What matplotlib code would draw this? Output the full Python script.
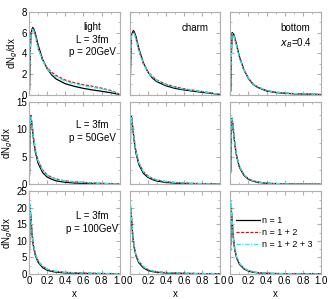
import matplotlib.pyplot as plt
from matplotlib.ticker import MultipleLocator

plt.rcParams['font.family'] = ['Liberation Sans', 'DejaVu Sans']
plt.rcParams['font.size'] = 7

# shared x grid
x = [0.005, 0.01, 0.02, 0.03, 0.04, 0.05, 0.07, 0.1, 0.15, 0.2, 0.25,
     0.3, 0.4, 0.5, 0.6, 0.7, 0.8, 0.9, 0.99]

# row 1: L = 3fm, p = 20GeV
light20_n1 = [0.5, 3.0, 5.8, 6.2, 6.5, 6.4, 5.9, 4.8, 3.4, 2.5, 1.9, 1.5, 1.05, 0.8, 0.6, 0.45, 0.32, 0.18, 0.03]
light20_n12 = [0.4, 3.2, 6.0, 6.1, 6.4, 6.3, 5.7, 4.5, 3.3, 2.6, 2.15, 1.85, 1.4, 1.15, 0.95, 0.8, 0.62, 0.4, 0.08]
light20_n123 = [0.4, 3.1, 5.9, 6.0, 6.3, 6.2, 5.7, 4.5, 3.3, 2.5, 2.0, 1.7, 1.3, 1.05, 0.85, 0.7, 0.55, 0.35, 0.06]
charm20_n1 = [0.4, 2.8, 5.8, 6.0, 6.2, 6.1, 5.6, 4.5, 3.1, 2.2, 1.6, 1.25, 0.85, 0.6, 0.45, 0.33, 0.22, 0.12, 0.02]
charm20_n12 = [0.3, 3.0, 5.9, 5.9, 6.1, 6.0, 5.4, 4.3, 3.0, 2.25, 1.75, 1.4, 1.0, 0.75, 0.56, 0.42, 0.3, 0.17, 0.03]
charm20_n123 = [0.3, 2.9, 5.8, 5.9, 6.0, 5.9, 5.4, 4.3, 3.0, 2.2, 1.7, 1.35, 0.95, 0.7, 0.52, 0.4, 0.28, 0.15, 0.03]
bottom20_n1 = [0.4, 3.5, 6.0, 5.9, 5.8, 5.5, 4.8, 3.7, 2.4, 1.55, 1.0, 0.7, 0.35, 0.2, 0.12, 0.08, 0.05, 0.03, 0.01]
bottom20_n12 = [0.3, 3.6, 5.9, 5.8, 5.7, 5.4, 4.7, 3.6, 2.4, 1.6, 1.05, 0.75, 0.4, 0.24, 0.15, 0.1, 0.07, 0.04, 0.01]
bottom20_n123 = [0.3, 3.5, 5.9, 5.8, 5.7, 5.4, 4.7, 3.6, 2.4, 1.6, 1.05, 0.75, 0.4, 0.24, 0.15, 0.1, 0.07, 0.04, 0.01]

# row 2: L = 3fm, p = 50GeV
light50_n1 = [2.0, 11.0, 12.4, 11.0, 9.5, 8.0, 5.8, 3.8, 2.1, 1.3, 0.9, 0.6, 0.35, 0.22, 0.15, 0.1, 0.07, 0.04, 0.01]
light50_n12 = [1.5, 10.5, 12.5, 11.2, 9.8, 8.4, 6.3, 4.3, 2.6, 1.7, 1.25, 0.95, 0.6, 0.45, 0.33, 0.25, 0.18, 0.1, 0.02]
light50_n123 = [1.5, 10.6, 12.4, 11.1, 9.7, 8.3, 6.2, 4.2, 2.5, 1.65, 1.2, 0.9, 0.58, 0.42, 0.3, 0.23, 0.16, 0.09, 0.02]
charm50_n1 = [2.0, 11.2, 12.3, 10.8, 9.3, 7.8, 5.6, 3.6, 2.0, 1.25, 0.85, 0.58, 0.33, 0.2, 0.13, 0.09, 0.06, 0.03, 0.01]
charm50_n12 = [1.5, 10.6, 12.3, 11.0, 9.6, 8.2, 6.0, 4.0, 2.3, 1.5, 1.05, 0.78, 0.48, 0.33, 0.24, 0.17, 0.12, 0.07, 0.01]
charm50_n123 = [1.5, 10.6, 12.2, 10.9, 9.5, 8.1, 5.9, 3.9, 2.3, 1.45, 1.0, 0.75, 0.46, 0.31, 0.22, 0.16, 0.11, 0.06, 0.01]
bottom50_n1 = [2.5, 11.5, 12.0, 10.3, 8.7, 7.2, 5.0, 3.1, 1.6, 0.9, 0.55, 0.35, 0.17, 0.09, 0.05, 0.03, 0.02, 0.01, 0.0]
bottom50_n12 = [2.0, 11.0, 12.0, 10.5, 8.9, 7.4, 5.2, 3.3, 1.75, 1.0, 0.65, 0.42, 0.22, 0.12, 0.07, 0.04, 0.03, 0.02, 0.0]
bottom50_n123 = [2.0, 11.0, 11.9, 10.4, 8.9, 7.4, 5.2, 3.3, 1.75, 1.0, 0.65, 0.42, 0.22, 0.12, 0.07, 0.04, 0.03, 0.02, 0.0]

# row 3: L = 3fm, p = 100GeV
light100_n1 = [8.0, 21.0, 17.0, 13.0, 10.0, 8.0, 5.5, 3.5, 1.9, 1.1, 0.75, 0.5, 0.3, 0.2, 0.14, 0.1, 0.07, 0.04, 0.01]
light100_n12 = [6.0, 20.5, 17.5, 13.6, 10.6, 8.6, 6.0, 4.0, 2.3, 1.45, 1.0, 0.75, 0.48, 0.35, 0.26, 0.2, 0.14, 0.08, 0.02]
light100_n123 = [6.0, 21.5, 17.4, 13.5, 10.5, 8.5, 5.9, 3.9, 2.25, 1.4, 0.98, 0.72, 0.46, 0.33, 0.25, 0.19, 0.13, 0.07, 0.02]
charm100_n1 = [8.0, 20.0, 16.8, 12.8, 9.9, 7.9, 5.4, 3.4, 1.85, 1.05, 0.7, 0.48, 0.28, 0.18, 0.12, 0.08, 0.06, 0.03, 0.01]
charm100_n12 = [6.5, 19.5, 17.2, 13.3, 10.4, 8.4, 5.8, 3.8, 2.2, 1.35, 0.92, 0.68, 0.42, 0.3, 0.22, 0.16, 0.11, 0.06, 0.01]
charm100_n123 = [6.5, 21.0, 17.1, 13.2, 10.3, 8.3, 5.8, 3.8, 2.15, 1.3, 0.9, 0.66, 0.4, 0.28, 0.2, 0.15, 0.1, 0.06, 0.01]
bottom100_n1 = [9.0, 19.5, 16.0, 12.0, 9.2, 7.2, 4.8, 2.9, 1.5, 0.85, 0.5, 0.32, 0.16, 0.09, 0.05, 0.03, 0.02, 0.01, 0.0]
bottom100_n12 = [7.0, 20.5, 16.4, 12.4, 9.6, 7.6, 5.1, 3.2, 1.7, 1.0, 0.62, 0.42, 0.22, 0.13, 0.08, 0.05, 0.03, 0.02, 0.0]
bottom100_n123 = [7.0, 22.0, 16.4, 12.4, 9.6, 7.6, 5.1, 3.2, 1.7, 1.0, 0.62, 0.42, 0.22, 0.13, 0.08, 0.05, 0.03, 0.02, 0.0]

panels = [
    [(light20_n1, light20_n12, light20_n123), (charm20_n1, charm20_n12, charm20_n123), (bottom20_n1, bottom20_n12, bottom20_n123)],
    [(light50_n1, light50_n12, light50_n123), (charm50_n1, charm50_n12, charm50_n123), (bottom50_n1, bottom50_n12, bottom50_n123)],
    [(light100_n1, light100_n12, light100_n123), (charm100_n1, charm100_n12, charm100_n123), (bottom100_n1, bottom100_n12, bottom100_n123)],
]
row_ylim = [8, 15, 25]
row_ystep = [2, 5, 5]
row_label = ['light\nL = 3fm\np = 20GeV', 'L = 3fm\np = 50GeV', 'L = 3fm\np = 100GeV']
row_label_y = [0.88, 0.78, 0.76]
series_labels = ['n = 1', 'n = 1 + 2', 'n = 1 + 2 + 3']
series_styles = [dict(color='black', ls='-'),
                 dict(color='red', ls=(0, (2.5, 1.2))),
                 dict(color='cyan', ls=(0, (3.5, 1.2, 1, 1.2)))]

frame = '#b0b0b0'

fig, axes = plt.subplots(3, 3, figsize=(3.34, 2.99), dpi=100, sharex=True)
fig.subplots_adjust(left=0.087, right=0.961, top=0.96, bottom=0.084, wspace=0.11, hspace=0.085)

for r in range(3):
    for c in range(3):
        ax = axes[r][c]
        for ys, st, lab in zip(panels[r][c], series_styles, series_labels):
            ax.plot(x, ys, lw=0.9, label=lab, **st)
        ax.set_xlim(0, 1.0)
        ax.set_ylim(0, row_ylim[r])
        ax.xaxis.set_major_locator(MultipleLocator(0.2))
        ax.xaxis.set_minor_locator(MultipleLocator(0.1))
        ax.yaxis.set_major_locator(MultipleLocator(row_ystep[r]))
        ax.yaxis.set_minor_locator(MultipleLocator(row_ystep[r] / 2))
        ax.tick_params(which='both', direction='in', top=True, right=True, color=frame, labelsize=7, pad=1.5)
        ax.tick_params(which='major', length=3)
        ax.tick_params(which='minor', length=1.5)
        for s in ax.spines.values():
            s.set_color(frame)
            s.set_linewidth(0.8)
        if c > 0:
            ax.set_yticklabels([])
        if r < 2:
            ax.tick_params(labelbottom=False)
        else:
            ax.set_xlabel('x', labelpad=2)
            ax.set_xticks([0, 0.2, 0.4, 0.6, 0.8, 1.0], ['0', '0.2', '0.4', '0.6', '0.8', '1.0'])
        if c == 0:
            ax.set_ylabel('dN$_g$/dx', labelpad=1)
            ax.text(0.7, row_label_y[r], row_label[r], transform=ax.transAxes, ha='center', va='top',
                    fontsize=7, linespacing=1.35)

axes[0][1].text(0.72, 0.87, 'charm', transform=axes[0][1].transAxes, ha='center', va='top', fontsize=7)
axes[0][2].text(0.72, 0.87, 'bottom\n$x_B$=0.4', transform=axes[0][2].transAxes, ha='center', va='top',
                fontsize=7, linespacing=1.35)

axes[2][2].legend(loc='center right', bbox_to_anchor=(1.0, 0.5), frameon=False, fontsize=6.5,
                  handlelength=2.6, handletextpad=0.3, labelspacing=0.3)

fig.savefig('out.png', dpi=100)
